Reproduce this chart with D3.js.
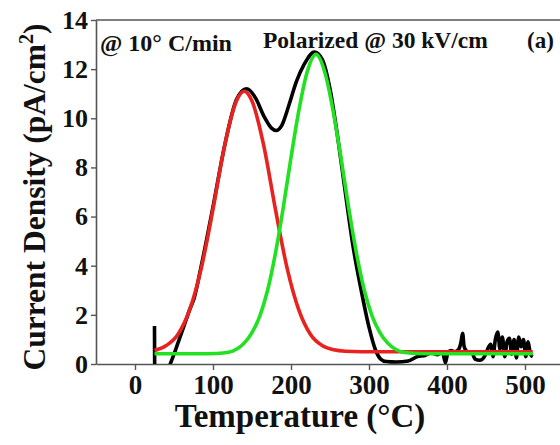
<!DOCTYPE html>
<html>
<head>
<meta charset="utf-8">
<script src="https://cdn.jsdelivr.net/npm/d3@7"></script>
<style>
  body { margin: 0; background: #fff; }
  svg { display: block; }
  text { font-family: "Liberation Serif", "Times New Roman", serif; font-weight: bold; fill: #111; }
</style>
</head>
<body>
<svg id="drawing_region"></svg>
<script>
// values: [temperature (°C), current density (pA/cm2)]
var measured = [
  [25, 1.55], [25.4, -0.6], [38, -0.6], [44, -0.1], [50, 0.4], [55, 0.85], [60, 1.3], [65, 1.75],
  [70, 2.2], [76, 2.7], [85, 4.0], [100, 6.4], [115, 8.9], [130, 10.75], [143, 11.2], [155, 10.8],
  [165, 10.1], [175, 9.6], [181, 9.5], [188, 9.7], [197, 10.5], [207, 11.5], [217, 12.2], [230, 12.7],
  [240, 12.4], [250, 11.2], [260, 9.2], [270, 6.9], [280, 4.7], [290, 3.0], [300, 1.5], [308, 0.6],
  [315, 0.2], [322, 0.1], [335, 0.08], [350, 0.12], [362, 0.3], [372, 0.35], [380, 0.45], [388, 0.38],
  [394, 0.5], [398, 0.05], [401, 0.45], [405, 0.55], [410, 0.5], [415, 0.6], [418, 0.9], [420, 1.25],
  [422, 0.7], [426, 0.5], [432, 0.45], [436, 0.2], [442, 0.15], [448, 0.3], [452, 0.6], [456, 0.8],
  [459, 0.3], [462, 1.0], [465, 1.3], [468, 0.6], [471, 1.1], [474, 0.3], [477, 0.9], [480, 1.05],
  [483, 0.4], [486, 1.0], [489, 0.25], [492, 1.1], [495, 0.7], [498, 1.0], [501, 0.3], [504, 0.9],
  [507, 0.4], [510, 0.3]
];

var peak1 = [
  [25, 0.55], [40, 0.75], [55, 1.2], [70, 2.2], [85, 3.9], [100, 6.3], [115, 8.9], [130, 10.7],
  [140, 11.1], [150, 10.7], [165, 8.9], [180, 6.3], [195, 3.9], [210, 2.2], [225, 1.2], [240, 0.75],
  [255, 0.58], [270, 0.52], [290, 0.5], [350, 0.5], [430, 0.5], [510, 0.5]
];

var peak2 = [
  [25, 0.42], [80, 0.42], [105, 0.43], [120, 0.48], [130, 0.6], [140, 0.85], [150, 1.28], [160, 1.95],
  [170, 3.0], [180, 4.5], [190, 6.35], [200, 8.4], [210, 10.3], [220, 11.8], [232, 12.6], [244, 11.8],
  [254, 10.3], [264, 8.4], [274, 6.35], [284, 4.5], [294, 3.0], [304, 1.95], [314, 1.28],
  [324, 0.85], [334, 0.6], [344, 0.48], [360, 0.43], [385, 0.42], [450, 0.42], [510, 0.42]
];

var xTicks = [0, 100, 200, 300, 400, 500];
var yTicks = [0, 2, 4, 6, 8, 10, 12, 14];

var config = {
  parent: '#drawing_region',
  width: 560,
  height: 445,
  margin: {top: 20, right: -4, bottom: 81, left: 96}
};

class TscChart {
  constructor(config) {
    this.config = config;
    this.init();
  }
  init() {
    var c = this.config;
    this.svg = d3.select(c.parent)
      .attr('width', c.width)
      .attr('height', c.height);
    this.inner_width = c.width - c.margin.left - c.margin.right;
    this.inner_height = c.height - c.margin.top - c.margin.bottom;
    this.chart = this.svg.append('g')
      .attr('transform', `translate(${c.margin.left}, ${c.margin.top})`);

    this.xscale = d3.scaleLinear().domain([-50, 550]).range([0, this.inner_width]);
    this.yscale = d3.scaleLinear().domain([0, 14]).range([this.inner_height, 0]);
  }
  render() {
    var self = this;
    var w = this.inner_width, h = this.inner_height;

    this.svg.append('defs').append('clipPath').attr('id', 'plotclip')
      .append('rect').attr('x', 0).attr('y', 0).attr('width', w).attr('height', h);

    // frame top
    this.chart.append('line')
      .attr('x1', 0).attr('x2', w + 10).attr('y1', 0).attr('y2', 0)
      .attr('stroke', '#555').attr('stroke-width', 1.6);

    // axes
    var xaxis = d3.axisBottom(this.xscale).tickValues(xTicks).tickSize(6).tickSizeOuter(0).tickPadding(5);
    var xg = this.chart.append('g')
      .attr('transform', `translate(0, ${h})`)
      .call(xaxis);
    xg.select('.domain').attr('stroke', '#555').attr('stroke-width', 1.6);
    xg.selectAll('.tick line').attr('stroke', '#555').attr('stroke-width', 1.4);
    xg.selectAll('.tick text').attr('font-size', 27).attr('dy', '0.72em').style('fill', '#111');

    var yaxis = d3.axisLeft(this.yscale).tickValues(yTicks).tickSize(5).tickSizeOuter(0).tickPadding(3);
    var yg = this.chart.append('g').call(yaxis);
    yg.select('.domain').attr('stroke', '#555').attr('stroke-width', 1.6);
    yg.selectAll('.tick line').attr('stroke', '#555').attr('stroke-width', 1.4);
    yg.selectAll('.tick text').attr('font-size', 26).style('fill', '#111');

    // curves
    var line = d3.line()
      .x(d => self.xscale(d[0]))
      .y(d => self.yscale(d[1]))
      .curve(d3.curveMonotoneX);

    var plot = this.chart.append('g').attr('clip-path', 'url(#plotclip)');
    var series = [
      {data: measured, color: '#000000'},
      {data: peak1, color: '#e8231f'},
      {data: peak2, color: '#22e022'}
    ];
    plot.selectAll('path')
      .data(series)
      .join('path')
      .attr('d', d => line(d.data))
      .attr('fill', 'none')
      .attr('stroke', d => d.color)
      .attr('stroke-width', 3.6)
      .attr('stroke-linejoin', 'round');

    // texts
    this.svg.append('text')
      .attr('x', 100).attr('y', 51)
      .attr('font-size', 24)
      .text('@ 10° C/min');
    this.svg.append('text')
      .attr('x', 263).attr('y', 48)
      .attr('font-size', 23.5)
      .text('Polarized @ 30 kV/cm');
    this.svg.append('text')
      .attr('x', 527).attr('y', 48)
      .attr('font-size', 23)
      .text('(a)');

    this.svg.append('text')
      .attr('x', 300).attr('y', 427)
      .attr('text-anchor', 'middle')
      .attr('font-size', 33)
      .text('Temperature (°C)');

    var ylab = this.svg.append('text')
      .attr('transform', 'translate(45, 197) rotate(-90)')
      .attr('text-anchor', 'middle')
      .attr('font-size', 31.5);
    ylab.append('tspan').text('Current Density (pA/cm');
    ylab.append('tspan').attr('dy', -12).attr('font-size', 20).text('2');
    ylab.append('tspan').attr('dy', 12).text(')');
  }
}

var chart = new TscChart(config);
chart.render();
</script>
</body>
</html>
